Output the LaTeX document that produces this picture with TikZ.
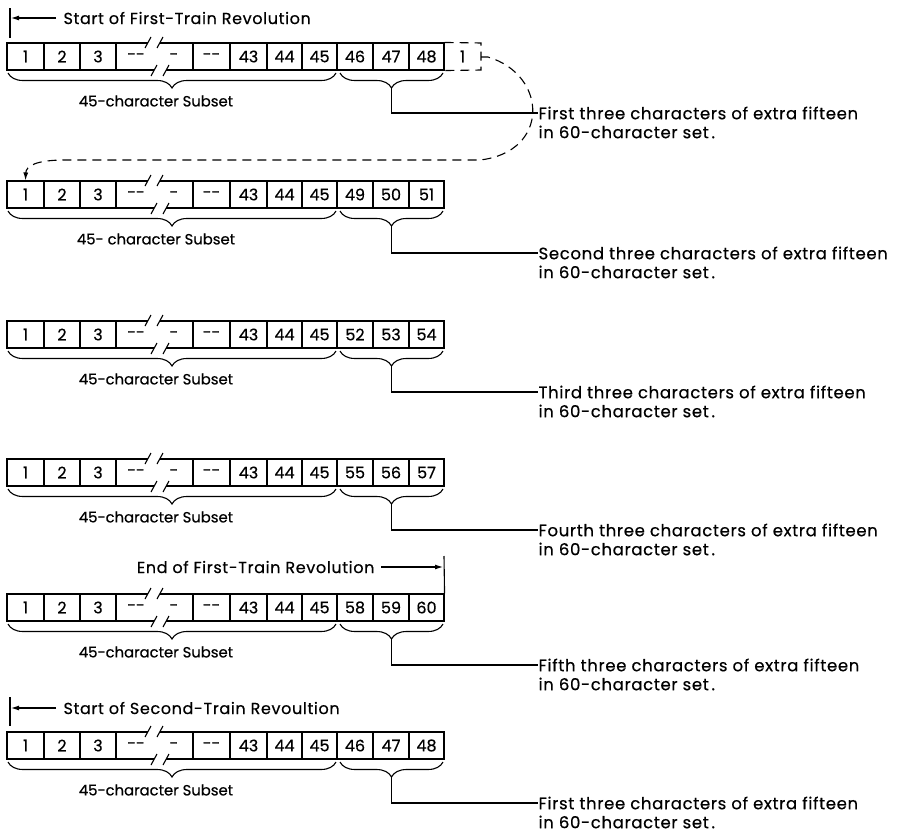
\documentclass[tikz,border=0pt]{standalone}
\usepackage{fontspec}
\setmainfont{Poppins}[FakeBold=0.5]
\newfontfamily\basefont[FakeBold=0.5]{Poppins}
\newfontfamily\notefont[LetterSpace=4,FakeBold=0.5]{Poppins}
\newfontfamily\headfont[LetterSpace=4,FakeBold=0.5]{Poppins}
\usetikzlibrary{decorations.pathreplacing,arrows.meta}
\tikzset{
  cell/.style={draw, minimum height=27pt, inner sep=0pt, font=\basefont\fontsize{16}{18}\selectfont},
  plain/.style={inner sep=0pt, font=\basefont\fontsize{16}{18}\selectfont},
  label/.style={inner sep=0pt, font=\basefont\fontsize{14.8}{17}\selectfont},
  head/.style={inner sep=0pt, font=\headfont\fontsize{16}{18}\selectfont},
  note/.style={inner sep=0pt, anchor=west, font=\notefont\fontsize{16.5}{19}\selectfont},
  bracebig/.style={decorate, decoration={brace, mirror, amplitude=15pt}},
  bracesmall/.style={decorate, decoration={brace, mirror, amplitude=15pt}},
  dashline/.style={dash pattern=on 9pt off 6pt},
  headarrow/.style={-{Latex[length=8pt,width=5pt]}},
}
\newcommand\cellrow[6]{%
\begin{scope}[shift={(0,#1)}]
  \node[cell, minimum width=37pt] (#2c1) at (25.5,13.5) {1};
  \node[cell, minimum width=36pt] (#2c2) at (62,13.5) {2};
  \node[cell, minimum width=36pt] (#2c3) at (98,13.5) {3};
  \node[plain] (#2d1) at (136,13.5) {-{}-};
  \node[plain] (#2d2) at (174,13.5) {-};
  \node[cell, minimum width=37pt] (#2c4) at (211.5,13.5) {-{}-};
  \node[cell, minimum width=37pt] (#2c5) at (248.5,13.5) {43};
  \node[cell, minimum width=35pt] (#2c6) at (284.5,13.5) {44};
  \node[cell, minimum width=35pt] (#2c7) at (319.5,13.5) {45};
  \node[cell, minimum width=36pt] (#2c8) at (355,13.5) {#3};
  \node[cell, minimum width=36pt] (#2c9) at (391,13.5) {#4};
  \node[cell, minimum width=35pt] (#2c10) at (426.5,13.5) {#5};
  % broken top and bottom of the gap
  \draw (116,0) -- (148,0);
  \draw (145,5) -- (151,-6);
  \draw (157,5) -- (163,-6);
  \draw (160,0) -- (193,0);
  \draw (116,27) -- (154,27);
  \draw (151,33) -- (157,22);
  \draw (163,33) -- (169,22);
  \draw (166,27) -- (193,27);
  % braces
  \draw[bracebig] (8,30) -- (336,30);
  \draw[bracesmall] (340,30) -- (443,30);
  \coordinate (#2tip) at (391.5,45);
  \node[label] (#2sub) at (156,58) {#6};
\end{scope}}
\newcommand\noterow[3]{%
  \node[note] (#1n1) at (538,#2) {#3 three characters of extra fifteen};
  \node[note] (#1n2) at (538,#2+19) {in 60-character set\,.};
  \draw (#1tip) |- (#1n1.west);
}
\begin{document}
\begin{tikzpicture}[x=1pt,y=-1pt,line width=1.1pt]
\useasboundingbox (0,0) rectangle (902,835);

% row 1 header
\coordinate (h1top) at (10,8);
\coordinate (h1bot) at (10,38);
\draw (h1top) -- (h1bot);
\node[head, anchor=west] (h1) at (63,18) {Start of First-Train Revolution};
\coordinate (h1a) at (11,18);
\draw[headarrow] (56,18) -- (h1a);

\cellrow{43}{ra}{46}{47}{48}{45-character Subset}
\cellrow{181}{rb}{49}{50}{51}{45- character Subset}
\cellrow{321}{rc}{52}{53}{54}{45-character Subset}
\cellrow{459}{rd}{55}{56}{57}{45-character Subset}
\cellrow{594}{re}{58}{59}{60}{45-character Subset}
\cellrow{732}{rf}{46}{47}{48}{45-character Subset}

% dashed extra cell and return path
\node[plain] (xone) at (462.5,56.5) {1};
\draw[dashline] (rac10.north east) -- (481,43) -- (481,70) -- (rac10.south east);
\coordinate (dstart) at (481,57);
\draw[dashline, headarrow] (dstart) -- (488,57) .. controls (548,75) and (550,152) .. (480,160) -- (65,160) .. controls (36,160) and (26,166) .. (rbc1.north);

\noterow{ra}{113}{First}
\noterow{rb}{253}{Second}
\noterow{rc}{392}{Third}
\noterow{rd}{530}{Fourth}
\noterow{re}{665}{Fifth}
\noterow{rf}{803}{First}

% row 5 header
\node[head, anchor=east] (h5) at (375,567) {End of First-Train Revolution};
\coordinate (h5a) at (443,567);
\draw[headarrow] (381,567) -- (h5a);
\draw (444,556) -- (rec10.north east);

% row 6 header
\draw (10,697) -- (10,726);
\node[head, anchor=west] (h6) at (63,708) {Start of Second-Train Revoultion};
\coordinate (h6a) at (11,708);
\draw[headarrow] (56,708) -- (h6a);
\end{tikzpicture}
\end{document}
